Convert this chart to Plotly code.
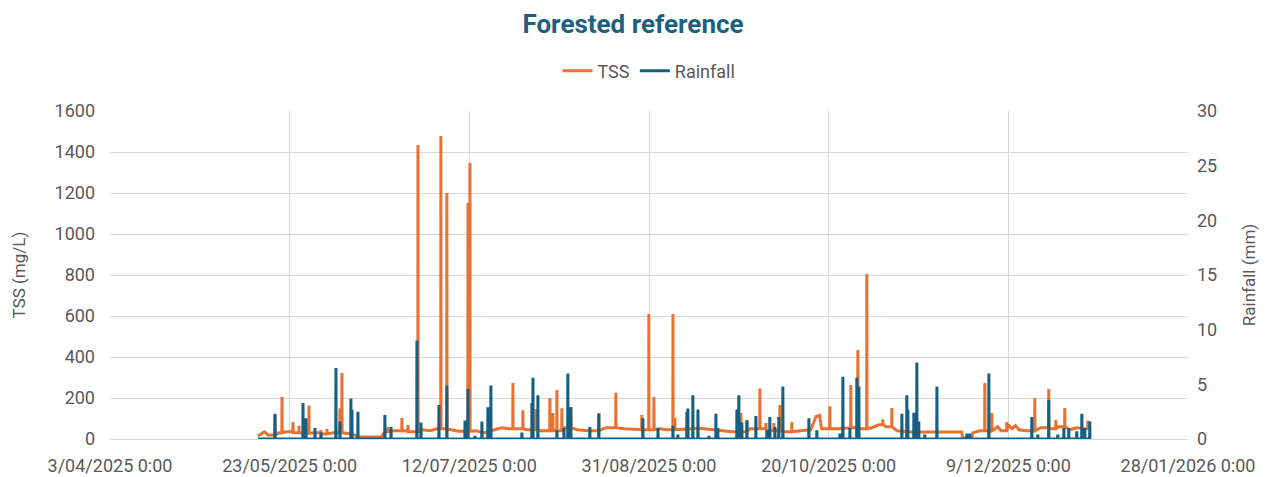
import pandas as pd
import plotly.graph_objects as go

# ---- TSS (mg/L): baseline readings ----
tss_base_time = [
    "2025-05-14 04:00", "2025-05-15", "2025-05-16", "2025-05-17", "2025-05-20", "2025-05-22",
    "2025-05-24", "2025-05-27", "2025-05-30", "2025-06-01", "2025-06-04", "2025-06-08",
    "2025-06-10", "2025-06-11", "2025-06-17 12:00", "2025-06-18 12:00", "2025-06-21",
    "2025-06-25", "2025-06-29", "2025-07-01", "2025-07-03", "2025-07-07", "2025-07-09",
    "2025-07-14", "2025-07-16", "2025-07-19", "2025-07-21", "2025-07-23", "2025-07-28",
    "2025-08-01", "2025-08-07", "2025-08-11", "2025-08-14", "2025-08-19", "2025-08-24",
    "2025-08-27", "2025-09-03", "2025-09-05", "2025-09-10", "2025-09-14", "2025-09-18",
    "2025-09-21", "2025-09-23", "2025-09-28", "2025-10-03", "2025-10-08", "2025-10-12",
    "2025-10-15", "2025-10-16 12:00", "2025-10-17 12:00", "2025-10-18", "2025-10-23",
    "2025-10-25", "2025-10-29", "2025-11-01", "2025-11-03", "2025-11-05", "2025-11-08",
    "2025-11-12", "2025-11-20", "2025-11-26 00:00", "2025-11-26 06:00", "2025-11-28 20:00",
    "2025-11-29 02:00", "2025-12-01", "2025-12-05", "2025-12-06", "2025-12-07", "2025-12-09",
    "2025-12-10", "2025-12-11", "2025-12-12", "2025-12-14", "2025-12-18", "2025-12-21",
    "2025-12-23", "2025-12-26", "2025-12-28", "2025-12-30", "2026-01-01 00:00",
]
tss_base_value = [
    15, 25, 35, 20, 30, 35,
    30, 28, 30, 25, 30, 28,
    20, 10, 10, 35, 40,
    35, 45, 40, 50, 45, 38,
    40, 30, 45, 55, 50, 45,
    40, 55, 45, 40, 55, 50,
    45, 50, 45, 48, 52, 45,
    40, 35, 50, 40, 35, 40,
    45, 110, 115, 50, 50,
    55, 50, 55, 70, 60, 40,
    34, 34, 34, 5, 5,
    30, 40, 45, 60, 40, 70,
    50, 65, 45, 40, 55, 50,
    60, 45, 55, 50, 45,
]

# ---- TSS (mg/L): event peaks ----
tss_peak_time = [
    "2025-05-18 22:00", "2025-05-20 21:00", "2025-05-23 22:00", "2025-05-25 14:00",
    "2025-05-28 09:00", "2025-05-31 17:00", "2025-06-02 09:00", "2025-06-06 00:00",
    "2025-06-06 13:00", "2025-06-19 08:00", "2025-06-23 06:00", "2025-06-24 22:00",
    "2025-06-27 17:00", "2025-07-04 02:00", "2025-07-05 18:00", "2025-07-11 15:00",
    "2025-07-12 04:00", "2025-07-24 03:00", "2025-07-26 22:00", "2025-07-30 13:00",
    "2025-08-03 10:00", "2025-08-04 06:00", "2025-08-05 09:00", "2025-08-06 18:00",
    "2025-08-09 06:00", "2025-08-17 01:00", "2025-08-21 19:00", "2025-08-29 00:00",
    "2025-08-30 23:00", "2025-09-01 09:00", "2025-09-06 16:00", "2025-09-07 05:00",
    "2025-09-25 14:00", "2025-09-27 06:00", "2025-09-30 21:00", "2025-10-02 13:00",
    "2025-10-04 18:00", "2025-10-06 10:00", "2025-10-09 18:00", "2025-10-20 08:00",
    "2025-10-26 04:00", "2025-10-28 03:00", "2025-10-30 15:00", "2025-11-04 02:00",
    "2025-11-06 14:00", "2025-12-02 11:00", "2025-12-04 10:00", "2025-12-08 14:00",
    "2025-12-16 09:00", "2025-12-20 06:00", "2025-12-22 05:00", "2025-12-24 17:00",
    "2025-12-31 03:00",
]
tss_peak_value = [
    117, 205, 83, 65,
    163, 44, 49, 150,
    322, 59, 102, 68,
    1434, 1478, 1200, 1151,
    1346, 273, 140, 146,
    200, 127, 239, 150,
    156, 127, 226, 117,
    610, 205, 610, 102,
    127, 93, 246, 78,
    78, 166, 83, 160,
    263, 434, 805, 96,
    151, 273, 127, 83,
    200, 244, 93, 151,
    90,
]

# ---- Rainfall (mm) ----
rain_period = ["2025-05-14 04:00", "2026-01-01 00:00"]
rain_time = [
    "2025-05-18 22:00", "2025-05-26 17:00", "2025-05-27 13:00", "2025-05-30 01:00",
    "2025-05-31 17:00", "2025-06-04 21:00", "2025-06-06 00:00", "2025-06-09 01:00",
    "2025-06-09 08:00", "2025-06-11 00:00", "2025-06-18 12:00", "2025-06-20 05:00",
    "2025-06-27 10:00", "2025-06-28 13:00", "2025-07-03 13:00", "2025-07-05 18:00",
    "2025-07-10 19:00", "2025-07-11 15:00", "2025-07-13 13:00", "2025-07-15 12:00",
    "2025-07-17 04:00", "2025-07-18 00:00", "2025-07-26 15:00", "2025-07-29 10:00",
    "2025-07-29 17:00", "2025-07-31 02:00", "2025-08-05 09:00", "2025-08-07 08:00",
    "2025-08-08 10:00", "2025-08-09 06:00", "2025-08-14 13:00", "2025-08-17 01:00",
    "2025-08-29 07:00", "2025-09-02 12:00", "2025-09-06 16:00", "2025-09-08 01:00",
    "2025-09-10 13:00", "2025-09-10 20:00", "2025-09-12 05:00", "2025-09-13 15:00",
    "2025-09-16 16:00", "2025-09-18 15:00", "2025-09-19 04:00", "2025-09-24 11:00",
    "2025-09-25 00:00", "2025-09-25 20:00", "2025-09-27 06:00", "2025-09-29 18:00",
    "2025-10-02 19:00", "2025-10-03 15:00", "2025-10-05 01:00", "2025-10-06 03:00",
    "2025-10-07 06:00", "2025-10-14 12:00", "2025-10-16 17:00", "2025-10-23 03:00",
    "2025-10-23 23:00", "2025-10-25 22:00", "2025-10-27 20:00", "2025-10-28 10:00",
    "2025-11-09 09:00", "2025-11-10 18:00", "2025-11-11 01:00", "2025-11-12 17:00",
    "2025-11-13 13:00", "2025-11-14 02:00", "2025-11-15 18:00", "2025-11-19 03:00",
    "2025-11-27 11:00", "2025-11-28 07:00", "2025-12-03 14:00", "2025-12-15 13:00",
    "2025-12-17 05:00", "2025-12-20 06:00", "2025-12-22 18:00", "2025-12-24 11:00",
    "2025-12-25 20:00", "2025-12-28 01:00", "2025-12-29 11:00", "2025-12-30 07:00",
    "2025-12-31 16:00",
]
rain_value = [
    2.3, 3.3, 1.9, 1.0,
    0.6, 6.5, 1.6, 3.7,
    2.7, 2.5, 2.2, 1.1,
    9.0, 1.5, 3.1, 4.9,
    1.7, 4.6, 0.3, 1.6,
    2.9, 4.9, 0.6, 3.3,
    5.6, 4.0, 0.8, 1.0,
    6.0, 2.9, 1.1, 2.3,
    1.9, 1.0, 1.2, 0.4,
    2.5, 2.8, 4.0, 2.7,
    0.3, 2.3, 1.0, 2.7,
    4.0, 1.5, 1.7, 2.1,
    0.8, 2.0, 1.1, 2.0,
    4.8, 1.9, 0.8, 0.5,
    5.7, 1.0, 5.6, 4.8,
    2.3, 4.0, 2.7, 2.4,
    7.0, 1.6, 0.4, 4.8,
    0.5, 0.5, 6.0, 2.0,
    0.4, 3.6, 0.4, 1.0,
    1.0, 0.7, 2.3, 1.0,
    1.6,
]

# axis ticks
x_start, x_end, tick_step_days = "2025-04-03", "2026-01-28", 50
tss_ticks = list(range(0, 1601, 200))
rain_ticks = list(range(0, 31, 5))


def to_dt(values):
    return list(pd.to_datetime(values, format="ISO8601"))


def merge(base_t, base_v, peak_t, peak_v):
    bt = to_dt(base_t)
    pts = list(zip(bt, base_v))
    half = pd.Timedelta(hours=1)
    for t, v in zip(to_dt(peak_t), peak_v):
        prev = [bv for b, bv in zip(bt, base_v) if b <= t]
        b = prev[-1] if prev else base_v[0]
        pts += [(t - half, b), (t, v), (t + half, b)]
    pts.sort(key=lambda p: p[0])
    return [p[0] for p in pts], [p[1] for p in pts]


tx, ty = merge(tss_base_time, tss_base_value, tss_peak_time, tss_peak_value)
rx, ry = merge(rain_period, [0, 0], rain_time, rain_value)

ORANGE = "#E97132"
BLUE = "#156082"
GRAY = "#595959"
GRID = "#D9D9D9"
FONT = "Roboto, Arial"

fig = go.Figure()
fig.add_trace(go.Scatter(x=tx, y=ty, name="TSS", mode="lines",
                         line=dict(color=ORANGE, width=3), yaxis="y"))
fig.add_trace(go.Scatter(x=rx, y=ry, name="Rainfall", mode="lines",
                         line=dict(color=BLUE, width=3), yaxis="y2"))

fig.update_layout(
    width=1266, height=477,
    margin=dict(l=110, r=78, t=111, b=38),
    paper_bgcolor="white", plot_bgcolor="white",
    font=dict(family=FONT, color=GRAY, size=18),
    title=dict(text="<b>Forested reference</b>", x=0.5, xanchor="center",
               y=0.95, yanchor="middle",
               font=dict(size=26, color="#1F5F7E", family=FONT)),
    legend=dict(orientation="h", x=0.5, xanchor="center", y=1.122, yanchor="middle",
                font=dict(size=18, color=GRAY, family=FONT), itemwidth=30),
    showlegend=True,
    xaxis=dict(
        type="date", range=[x_start, x_end], automargin=False,
        tick0=x_start, dtick=tick_step_days * 86400000,
        tickformat="%-d/%m/%Y 0:00",
        showgrid=True, gridcolor=GRID, gridwidth=1,
        showline=True, linecolor=GRID, linewidth=1,
        ticks="", zeroline=False, ticklabelstandoff=10,
        tickfont=dict(size=18, color=GRAY, family=FONT),
    ),
    yaxis=dict(
        range=[0, 1600], tickvals=tss_ticks, automargin=False,
        showgrid=True, gridcolor=GRID, gridwidth=1,
        zeroline=False, showline=False, ticks="", ticklabelstandoff=14,
        title=dict(text="TSS (mg/L)", font=dict(size=17, color=GRAY, family=FONT), standoff=24),
        tickfont=dict(size=18, color=GRAY, family=FONT),
    ),
    yaxis2=dict(
        range=[0, 30], tickvals=rain_ticks, overlaying="y", side="right", automargin=False,
        showgrid=False, zeroline=False, showline=False, ticks="", ticklabelstandoff=8,
        title=dict(text="Rainfall (mm)", font=dict(size=17, color=GRAY, family=FONT), standoff=26),
        tickfont=dict(size=18, color=GRAY, family=FONT),
    ),
)

fig.write_html("out.html")
